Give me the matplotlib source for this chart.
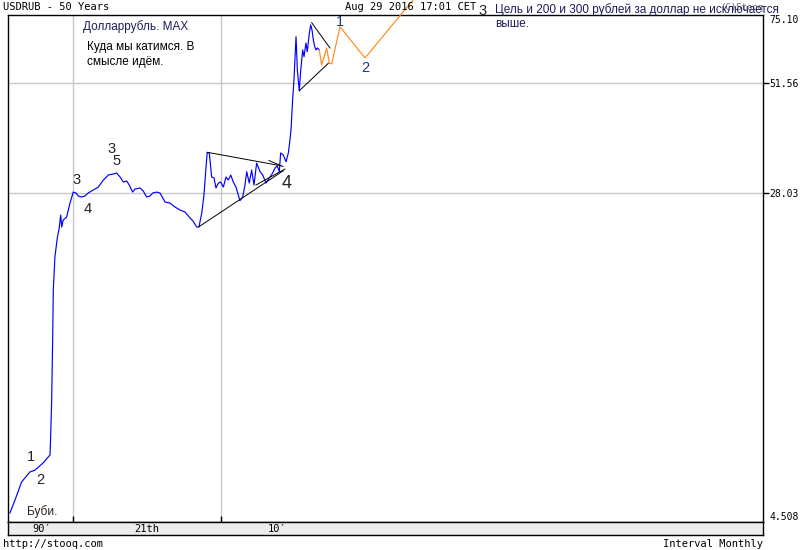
import matplotlib
matplotlib.use('Agg')
import matplotlib.pyplot as plt
from matplotlib.ticker import FixedLocator, FixedFormatter, NullLocator

# ---------------- data ----------------
years = [1995.74, 1996.08, 1996.53, 1997.09, 1997.43, 1997.97, 1998.45, 1998.49,
         1998.56, 1998.63, 1998.67, 1998.78, 1998.94, 1999.07, 1999.17, 1999.24,
         1999.34, 1999.57, 1999.80, 2000.02, 2000.20, 2000.36, 2000.59, 2000.81,
         2001.03, 2001.37, 2001.71, 2002.05, 2002.39, 2002.72, 2002.95, 2003.18,
         2003.40, 2003.63, 2003.80, 2004.03, 2004.19, 2004.53, 2004.75, 2004.98,
         2005.20, 2005.39, 2005.66, 2005.88, 2006.22, 2006.55, 2006.89, 2007.23,
         2007.57, 2007.91, 2008.11, 2008.36, 2008.51, 2008.70, 2008.85, 2008.99,
         2009.07, 2009.21, 2009.37, 2009.53, 2009.66, 2009.82, 2009.98, 2010.16,
         2010.34, 2010.49, 2010.66, 2010.83, 2011.01, 2011.17, 2011.28, 2011.47,
         2011.62, 2011.74, 2011.91, 2012.07, 2012.23, 2012.41, 2012.64, 2012.82,
         2013.04, 2013.26, 2013.49, 2013.65, 2013.80, 2013.94, 2014.03, 2014.21,
         2014.39, 2014.55, 2014.66, 2014.73, 2014.84, 2014.93, 2015.07, 2015.16,
         2015.29, 2015.39, 2015.52, 2015.61, 2015.74, 2015.83, 2015.97, 2016.06,
         2016.15, 2016.24, 2016.33, 2016.42, 2016.51, 2016.64]
usdrub = [4.74, 5.09, 5.63, 5.95, 6.01, 6.25, 6.54, 7.22,
          8.87, 12.58, 16.33, 19.61, 21.79, 23.03, 24.75, 23.16,
          24.08, 24.48, 26.46, 28.12, 27.97, 27.51, 27.35, 27.51,
          27.97, 28.44, 28.91, 30.06, 30.91, 31.08, 31.25, 30.57,
          29.73, 29.89, 29.24, 28.12, 28.60, 28.76, 28.28, 27.35,
          27.51, 27.97, 28.12, 27.97, 26.60, 26.46, 25.88, 25.45,
          25.17, 24.35, 23.94, 23.16, 23.16, 25.03, 27.66, 32.31,
          35.02, 34.92, 30.57, 30.40, 28.76, 29.56, 29.73, 28.91,
          30.57, 30.06, 30.91, 29.73, 28.91, 27.66, 26.80, 27.40,
          29.24, 31.48, 29.56, 31.77, 29.24, 33.03, 31.48, 30.91,
          29.56, 30.40, 31.25, 32.13, 32.49, 31.48, 34.92, 34.54,
          33.27, 34.92, 37.53, 39.67, 46.86, 52.36, 66.59, 55.35,
          49.33, 55.35, 61.86, 59.60, 64.30, 61.28, 67.96, 71.05,
          69.11, 65.38, 62.99, 61.86, 62.54, 61.86]

# projected wave (orange)
wave_years = [2016.64, 2016.80, 2017.14, 2017.32, 2017.48, 2018.04, 2019.73, 2022.97]
wave_values = [61.86, 56.90, 62.54, 57.53, 57.22, 70.38, 59.17, 81.62]

# trend lines (black)
tri1_top_years = [2009.07, 2014.05]
tri1_top_values = [35.06, 32.54]
tri1_top2_years = [2013.24, 2014.19]
tri1_top2_values = [33.50, 32.40]
tri1_bot_years = [2008.51, 2014.21]
tri1_bot_values = [23.20, 31.65]
tri1_bot2_years = [2012.36, 2014.32]
tri1_bot2_values = [29.24, 31.95]
tri2_top_years = [2016.13, 2017.36]
tri2_top_values = [71.96, 62.54]
tri2_bot_years = [2015.29, 2017.25]
tri2_bot_values = [49.33, 57.43]

y_ticks = [4.508, 28.03, 51.56, 75.10]
y_tick_labels = ['4.508', '28.03', '51.56', '75.10']
y_grid = [28.03, 51.56]
decade_lines = [2000, 2010]
decade_labels = ["90\u2032", "21th", "10\u2032"]
decade_label_years = [1997.9, 2005.0, 2013.8]

# ---------------- figure ----------------
W, H = 800, 550
fig = plt.figure(figsize=(W / 100, H / 100), dpi=100)
fig.patch.set_facecolor('white')

MONO = ['DejaVu Sans Mono', 'DejaVu Sans']
SANS = ['Liberation Sans', 'DejaVu Sans']

L, R, T, B = 8, 763, 15, 522
ax = fig.add_axes([L / W, 1 - B / H, (R - L) / W, (B - T) / H])
ax.set_yscale('log')
ax.set_xlim(1995.61, 2046.62)
ax.set_ylim(y_ticks[0], y_ticks[-1])

for s in ax.spines.values():
    s.set_color('black')
    s.set_linewidth(1.0)

for v in y_grid:
    ax.axhline(v, color='#c8c8c8', lw=1.0, zorder=0)
for v in decade_lines:
    ax.axvline(v, color='#c8c8c8', lw=1.0, zorder=0)

ax.plot(years, usdrub, color='#0000ff', lw=0.85, zorder=3)
ax.plot(wave_years, wave_values, color='#ff8a1c', lw=0.85, zorder=3, clip_on=False)
for xs, ys in [(tri1_top_years, tri1_top_values), (tri1_top2_years, tri1_top2_values),
               (tri1_bot_years, tri1_bot_values), (tri1_bot2_years, tri1_bot2_values),
               (tri2_top_years, tri2_top_values), (tri2_bot_years, tri2_bot_values)]:
    ax.plot(xs, ys, color='black', lw=0.7, zorder=4)

ax.yaxis.set_major_locator(FixedLocator(y_ticks))
ax.yaxis.set_major_formatter(FixedFormatter(y_tick_labels))
ax.yaxis.set_minor_locator(NullLocator())
ax.yaxis.tick_right()
ax.tick_params(axis='y', which='major', direction='out', length=4, width=1,
               labelsize=7, pad=0.5, colors='black')
labs = ax.get_yticklabels()
for lab in labs:
    lab.set_fontfamily(MONO)
labs[0].set_verticalalignment('bottom')
labs[-1].set_verticalalignment('top')
yt = ax.yaxis.get_major_ticks()
for i in (0, len(yt) - 1):
    yt[i].tick2line.set_visible(False)

ax.xaxis.set_major_locator(FixedLocator(decade_lines))
ax.xaxis.set_minor_locator(NullLocator())
ax.tick_params(axis='x', which='major', direction='in', length=4, width=1,
               labelbottom=False, colors='black')

# bottom date band
band = fig.add_axes([L / W, 1 - 535 / H, (R - L) / W, 13 / H])
band.set_facecolor('#ececec')
band.set_xlim(ax.get_xlim())
band.set_ylim(0, 1)
band.set_xticks([])
band.set_yticks([])
for s in band.spines.values():
    s.set_color('black')
    s.set_linewidth(1.0)
for lab, yr in zip(decade_labels, decade_label_years):
    band.text(yr, 0.45, lab, ha='center', va='center', fontsize=7.5,
              family=MONO, color='black')


def fx(x):
    return x / W


def fy(y):
    return 1 - y / H


# header / footer
fig.text(fx(3), fy(7), 'USDRUB - 50 Years', family=MONO, fontsize=7.5, va='center', ha='left')
fig.text(fx(345), fy(7), 'Aug 29 2016 17:01 CET', family=MONO, fontsize=7.5, va='center', ha='left')
fig.text(fx(763), fy(7), '(C)Stooq', family=MONO, fontsize=6.5, va='center', ha='right', color='#666666')
fig.text(fx(3), fy(544), 'http://stooq.com', family=MONO, fontsize=7.5, va='center', ha='left')
fig.text(fx(763), fy(544), 'Interval Monthly', family=MONO, fontsize=7.5, va='center', ha='right')

# annotations
navy = '#1c1c5a'
dark = '#2a2218'
fig.text(fx(83), fy(27), 'Долларрубль. MAX', family=SANS, fontsize=8.5, va='center', color=navy)
fig.text(fx(87), fy(47), 'Куда мы катимся. В', family=SANS, fontsize=8.5, va='center', color='black')
fig.text(fx(87), fy(62), 'смысле идём.', family=SANS, fontsize=8.5, va='center', color='black')
fig.text(fx(495), fy(10), 'Цель и 200 и 300 рублей за доллар не исключается', family=SANS,
         fontsize=8.5, va='center', color=navy)
fig.text(fx(495), fy(24), 'выше.', family=SANS, fontsize=8.5, va='center', color=navy)
fig.text(fx(27), fy(512), 'Буби.', family=SANS, fontsize=8.5, va='center', color=dark)

for txt, x, y, sz, col in [('1', 31, 457, 10.5, dark), ('2', 40, 480, 10.5, dark),
                           ('3', 77, 180, 10.5, dark), ('4', 88, 209, 10.5, dark),
                           ('3', 112, 149, 10.5, dark), ('5', 117, 161, 10.5, dark),
                           ('4', 287, 184, 13, dark), ('1', 340, 22, 10.5, '#1d3a78'),
                           ('2', 365, 68, 10.5, '#1d3a78'), ('3', 483, 11, 10.5, dark)]:
    fig.text(fx(x), fy(y), txt, family=SANS, fontsize=sz, ha='center', va='center', color=col)

fig.savefig('out.png', dpi=100)
